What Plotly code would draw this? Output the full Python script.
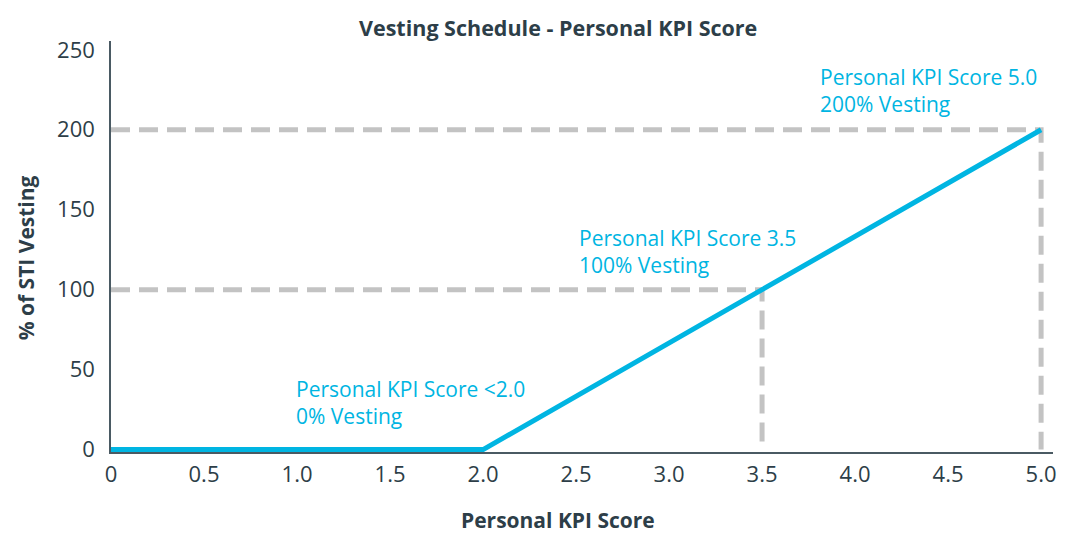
import plotly.graph_objects as go

# Data
kpi_score = [0, 2.0, 3.5, 5.0]
vesting_pct = [0, 0, 100, 200]
ref_points_x = [3.5, 5.0]
ref_points_y = [100, 200]
x_ticks = [0, 0.5, 1.0, 1.5, 2.0, 2.5, 3.0, 3.5, 4.0, 4.5, 5.0]
x_tick_labels = ["0", "0.5", "1.0", "1.5", "2.0", "2.5", "3.0", "3.5", "4.0", "4.5", "5.0"]
y_ticks = [0, 50, 100, 150, 200, 250]
labels = [
    "Personal KPI Score <2.0<br>0% Vesting",
    "Personal KPI Score 3.5<br>100% Vesting",
    "Personal KPI Score 5.0<br>200% Vesting",
]

CYAN = "#00b5e2"
DARK = "#2d3e48"
GRAY = "#c3c3c3"
FONT = "Open Sans"

fig = go.Figure()

# dashed reference lines
for rx, ry in zip(ref_points_x, ref_points_y):
    fig.add_trace(go.Scatter(
        x=[0, rx, rx], y=[ry, ry, 0], mode="lines",
        line=dict(color=GRAY, width=5, dash="19px,9px"),
        hoverinfo="skip", showlegend=False))

fig.add_trace(go.Scatter(
    x=kpi_score, y=vesting_pct, mode="lines",
    line=dict(color=CYAN, width=5), showlegend=False))

# annotation positions (pixel-based, converted to paper)
W, H = 1065, 536
L, R, T, B = 111, 8, 41, 84
pw, ph = W - L - R, H - T - B

def px(x):
    return (x - L) / pw

def py(y):
    return (H - B - y) / ph

ann_pos = [(295, 402), (579, 252), (821, 91)]
for text, (ax, ay) in zip(labels, ann_pos):
    fig.add_annotation(
        text=text, x=px(ax), y=py(ay), xref="paper", yref="paper",
        xanchor="left", yanchor="middle", align="left", showarrow=False,
        font=dict(family=FONT, size=21, color=CYAN))

fig.add_annotation(
    text="<b>Vesting Schedule - Personal KPI Score</b>", x=px(560), y=py(27),
    xref="paper", yref="paper", xanchor="center", yanchor="middle",
    showarrow=False, font=dict(family=FONT, size=21.5, color=DARK))
fig.add_annotation(
    text="<b>Personal KPI Score</b>", x=px(560), y=py(520),
    xref="paper", yref="paper", xanchor="center", yanchor="middle",
    showarrow=False, font=dict(family=FONT, size=21, color=DARK))
fig.add_annotation(
    text="<b>% of STI Vesting</b>", x=px(26), y=py(258), textangle=-90,
    xref="paper", yref="paper", xanchor="center", yanchor="middle",
    showarrow=False, font=dict(family=FONT, size=21, color=DARK))

fig.update_layout(
    width=W, height=H,
    margin=dict(l=L, r=R, t=T, b=B),
    paper_bgcolor="white", plot_bgcolor="white",
    font=dict(family=FONT, size=20, color=DARK),
)
fig.update_xaxes(
    range=[0, 5.064], tickvals=x_ticks, ticktext=x_tick_labels,
    showgrid=False, zeroline=False, showline=True, linecolor="#4a5a63", linewidth=1.5,
    ticks="outside", ticklen=2, tickcolor="rgba(0,0,0,0)",
    tickfont=dict(family=FONT, size=22, color=DARK))
fig.update_yaxes(
    range=[-1.5, 255.5], tickvals=y_ticks,
    showgrid=False, zeroline=False, showline=True, linecolor="#4a5a63", linewidth=1.5,
    ticks="outside", ticklen=10, tickcolor="rgba(0,0,0,0)",
    tickfont=dict(family=FONT, size=22, color=DARK))

fig.write_html("out.html", config={"displayModeBar": False},
               post_script="document.body.style.margin='0';")
